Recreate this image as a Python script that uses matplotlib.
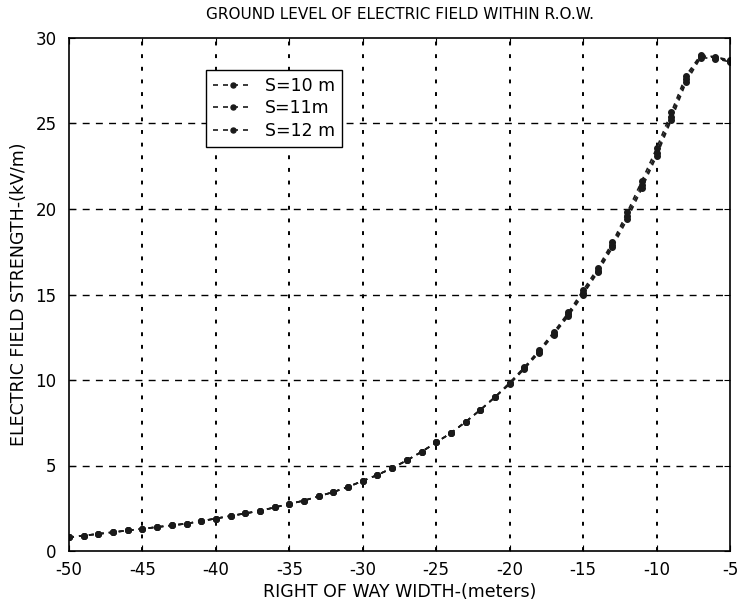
import matplotlib
matplotlib.use("Agg")
import matplotlib.pyplot as plt
import numpy as np

plt.rcParams['font.family'] = ['DejaVu Sans']
plt.rcParams['axes.unicode_minus'] = False

x_m = list(range(-50, -4))
s10 = [0.80, 0.90, 1.00, 1.10, 1.20, 1.30, 1.40, 1.50, 1.60, 1.75,
       1.90, 2.05, 2.20, 2.35, 2.55, 2.75, 2.95, 3.20, 3.45, 3.75,
       4.10, 4.45, 4.85, 5.30, 5.80, 6.35, 6.90, 7.55, 8.25, 9.00,
       9.75, 10.65, 11.60, 12.65, 13.75, 15.00, 16.30, 17.75, 19.40, 21.20,
       23.10, 25.20, 27.40, 28.85, 28.80, 28.60]
s11 = [0.80, 0.90, 1.00, 1.10, 1.20, 1.30, 1.40, 1.50, 1.60, 1.75,
       1.90, 2.05, 2.20, 2.35, 2.55, 2.75, 2.95, 3.20, 3.45, 3.75,
       4.10, 4.45, 4.85, 5.30, 5.80, 6.35, 6.90, 7.55, 8.25, 9.00,
       9.80, 10.70, 11.65, 12.70, 13.85, 15.10, 16.40, 17.90, 19.60, 21.40,
       23.30, 25.40, 27.60, 28.95, 28.85, 28.65]
s12 = [0.80, 0.90, 1.00, 1.10, 1.20, 1.30, 1.40, 1.50, 1.60, 1.75,
       1.90, 2.05, 2.20, 2.35, 2.55, 2.75, 2.95, 3.20, 3.45, 3.75,
       4.10, 4.45, 4.85, 5.30, 5.80, 6.35, 6.90, 7.55, 8.25, 9.00,
       9.85, 10.75, 11.75, 12.80, 13.95, 15.25, 16.55, 18.05, 19.80, 21.65,
       23.55, 25.65, 27.80, 29.00, 28.90, 28.70]
series = {"S=10 m": s10, "S=11m": s11, "S=12 m": s12}

x_ticks = [-50, -45, -40, -35, -30, -25, -20, -15, -10, -5]
y_ticks = [0, 5, 10, 15, 20, 25, 30]

fig = plt.figure(figsize=(7.41, 6.11), dpi=100)
ax = fig.add_axes([69/741, 1-551/611, (730-69)/741, (551-38)/611])

for label, ys in series.items():
    ax.plot(x_m, ys, linestyle='--', color='#1a1a1a', marker='o', markersize=4,
            linewidth=1.2, label=label, dashes=(3, 3))

ax.set_xlim(-50, -5)
ax.set_ylim(0, 30)
ax.set_xticks(x_ticks)
ax.set_yticks(y_ticks)
ax.tick_params(direction='in', top=True, right=True, labelsize=12, length=4, color='black')
ax.tick_params(axis='x', pad=7)
ax.tick_params(axis='y', pad=9)

for xv in x_ticks[1:-1]:
    ax.axvline(xv, color='black', linestyle=(0, (2, 4.5)), linewidth=1.4, zorder=0)
for yv in y_ticks[1:-1]:
    ax.axhline(yv, color='black', linestyle=(0, (5, 4.5)), linewidth=1.0, zorder=0)

for sp in ax.spines.values():
    sp.set_linewidth(1.2)

ax.set_title("GROUND LEVEL OF ELECTRIC FIELD WITHIN R.O.W.", fontsize=11, pad=14)
ax.set_xlabel("RIGHT OF WAY WIDTH-(meters)", fontsize=12.5, labelpad=3)
ax.set_ylabel("ELECTRIC FIELD STRENGTH-(kV/m)", fontsize=12.5, labelpad=5)

leg = ax.legend(loc='upper left', bbox_to_anchor=(0.2073, 0.9376), borderaxespad=0,
                fontsize=12.5, frameon=True, fancybox=False, edgecolor='black',
                framealpha=1, handlelength=2.3, handletextpad=0.7,
                labelspacing=0.25, borderpad=0.4, markerscale=0.9)
leg.get_frame().set_linewidth(1.0)

fig.savefig("out.png", dpi=100, facecolor='white')
